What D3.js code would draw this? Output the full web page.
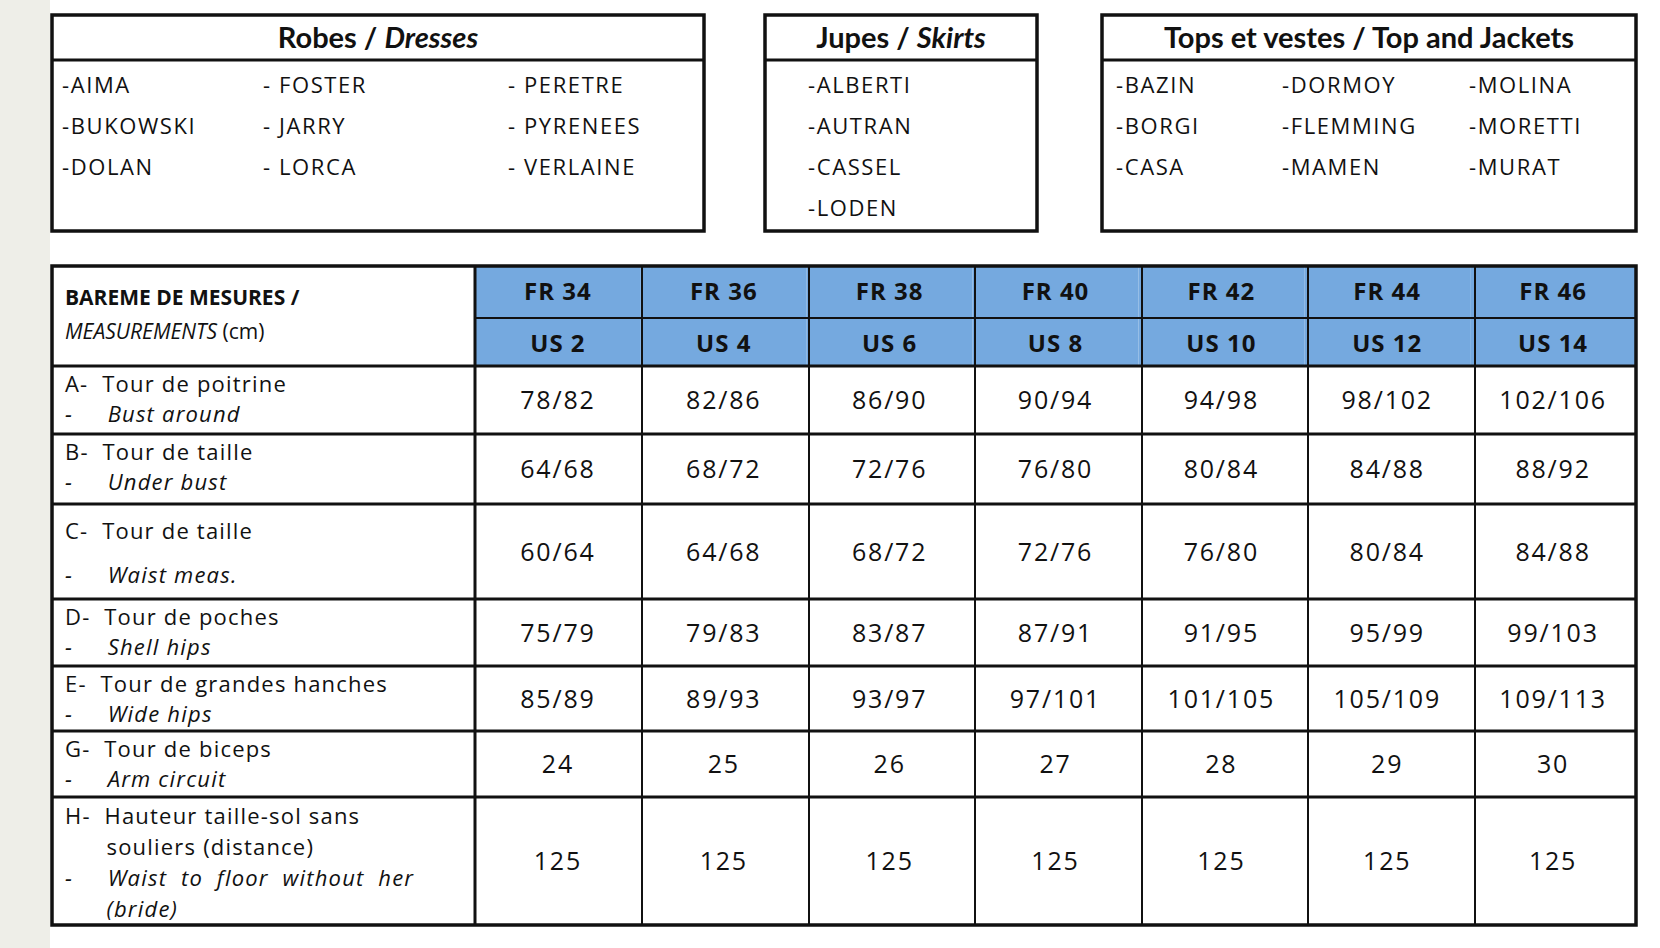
<!DOCTYPE html><html><head><meta charset="utf-8">
<script src="https://cdn.jsdelivr.net/npm/d3@7"></script>
<style>body{margin:0;background:#fff}svg{display:block}</style></head><body>
<script>
const dresses=[["-AIMA","-BUKOWSKI","-DOLAN"],["- FOSTER","- JARRY","- LORCA"],["- PERETRE","- PYRENEES","- VERLAINE"]];
const skirts=[["-ALBERTI","-AUTRAN","-CASSEL","-LODEN"]];
const tops=[["-BAZIN","-BORGI","-CASA"],["-DORMOY","-FLEMMING","-MAMEN"],["-MOLINA","-MORETTI","-MURAT"]];
const frSizes=["FR 34","FR 36","FR 38","FR 40","FR 42","FR 44","FR 46"];
const usSizes=["US 2","US 4","US 6","US 8","US 10","US 12","US 14"];
const rowKeys=["A","B","C","D","E","G","H"];
const rowLabels=[["A-  Tour de poitrine","-     Bust around"],["B-  Tour de taille","-     Under bust"],["C-  Tour de taille","","-     Waist meas."],["D-  Tour de poches","-     Shell hips"],["E-  Tour de grandes hanches","-     Wide hips"],["G-  Tour de biceps","-     Arm circuit"],["H-  Hauteur taille-sol sans","      souliers (distance)","-     Waist  to  floor  without  her","      (bride)"]];
const values=[["78/82","82/86","86/90","90/94","94/98","98/102","102/106"],["64/68","68/72","72/76","76/80","80/84","84/88","88/92"],["60/64","64/68","68/72","72/76","76/80","80/84","84/88"],["75/79","79/83","83/87","87/91","91/95","95/99","99/103"],["85/89","89/93","93/97","97/101","101/105","105/109","109/113"],["24","25","26","27","28","29","30"],["125","125","125","125","125","125","125"]];

const W=1660,H=948;
const svg=d3.select("body").append("svg").attr("width",W).attr("height",H);
svg.append("rect").attr("width",50).attr("height",H).attr("fill","#eeeee8");
const F="'Open Sans', sans-serif";

function box(x0,x1,title,italic,cols,colX){
  const g=svg.append("g");
  g.append("rect").attr("x",x0).attr("y",15).attr("width",x1-x0).attr("height",216).attr("fill","#fff").attr("stroke","#111").attr("stroke-width",3.5);
  g.append("line").attr("x1",x0).attr("x2",x1).attr("y1",60).attr("y2",60).attr("stroke","#111").attr("stroke-width",3);
  const t=g.append("text").attr("x",(x0+x1)/2).attr("y",48).attr("text-anchor","middle").attr("font-family","Lato, sans-serif").attr("font-weight",700).attr("font-size",29).attr("fill","#111");
  t.append("tspan").text(title);
  if(italic) t.append("tspan").attr("font-style","italic").text(italic);
  const ys=d3.scaleLinear().domain([0,1]).range([93,134]);
  cols.forEach((c,i)=>g.selectAll(null).data(c).join("text").attr("x",colX[i]).attr("y",(d,j)=>ys(j)).attr("font-family",F).attr("font-size",22).attr("letter-spacing",1.6).attr("fill","#111").text(d=>d));
}
box(52,704,"Robes / ","Dresses",dresses,[62,263,508]);
box(765,1037,"Jupes / ","Skirts",skirts,[808]);
box(1102,1636,"Tops et vestes / Top and Jackets",null,tops,[1116,1282,1469]);

// table
const colEdges=[52,475,642,809,975,1142,1308,1475,1636];
const x=d3.scaleBand().domain(frSizes).range([475,1636]);
const rowEdges=[366,434,504,599,666,731,797,925];
const yTop=d3.scaleOrdinal().domain(rowKeys).range(rowEdges.slice(0,-1));
const yBot=d3.scaleOrdinal().domain(rowKeys).range(rowEdges.slice(1));
const T=svg.append("g");
T.append("rect").attr("x",52).attr("y",266).attr("width",1584).attr("height",659).attr("fill","#fff");
T.selectAll(null).data(frSizes).join("rect").attr("x",d=>x(d)).attr("y",266).attr("width",x.bandwidth()).attr("height",100).attr("fill","#75a9df");
T.selectAll(null).data(frSizes).join("text").attr("x",d=>x(d)+x.bandwidth()/2).attr("y",300).attr("text-anchor","middle").attr("font-family",F).attr("font-weight",700).attr("font-size",24).attr("letter-spacing",1).attr("fill","#111").text(d=>d);
T.selectAll(null).data(usSizes).join("text").attr("x",(d,i)=>x(frSizes[i])+x.bandwidth()/2).attr("y",352).attr("text-anchor","middle").attr("font-family",F).attr("font-weight",700).attr("font-size",24).attr("letter-spacing",1).attr("fill","#111").text(d=>d);
T.append("text").attr("x",65).attr("y",305).attr("font-family",F).attr("font-weight",700).attr("font-size",21).attr("fill","#111").text("BAREME DE MESURES /");
const m=T.append("text").attr("x",65).attr("y",339).attr("font-family",F).attr("font-size",21).attr("fill","#111");
m.append("tspan").attr("font-style","italic").text("MEASUREMENTS");m.append("tspan").text("    (cm)");
rowKeys.forEach((k,i)=>{
  const t=yTop(k),b=yBot(k),L=rowLabels[i];
  const n=L.length, step=n===4?31:(n===3?22:30);
  const start=n===4?(t+27):(n===3?(t+35):(t+26));
  L.forEach((s,j)=>{ if(!s) return;
    const it=s.startsWith("-")&&j>0 || (n===4&&j===3);
    T.append("text").attr("x",65).attr("y",start+j*step+(n===3&&j===2?0:0)).attr("font-family",F).attr("font-size",22).attr("letter-spacing",1.2).attr("fill","#111").attr("font-style",it?"italic":"normal").attr("xml:space","preserve").style("white-space","pre").text(s);
  });
  T.selectAll(null).data(values[i]).join("text").attr("x",(d,c)=>x(frSizes[c])+x.bandwidth()/2).attr("y",(t+b)/2+9).attr("text-anchor","middle").attr("font-family",F).attr("font-size",25).attr("letter-spacing",1.8).attr("fill","#111").text(d=>d);
});
// grid
T.selectAll(null).data(colEdges.slice(1,-1)).join("line").attr("x1",d=>d).attr("x2",d=>d).attr("y1",266).attr("y2",925).attr("stroke","#111").attr("stroke-width",d=>d===475?3:2);
T.append("line").attr("x1",475).attr("x2",1636).attr("y1",318).attr("y2",318).attr("stroke","#111").attr("stroke-width",2);
T.selectAll(null).data(rowEdges.slice(0,-1)).join("line").attr("x1",52).attr("x2",1636).attr("y1",d=>d).attr("y2",d=>d).attr("stroke","#111").attr("stroke-width",3);
T.append("rect").attr("x",52).attr("y",266).attr("width",1584).attr("height",659).attr("fill","none").attr("stroke","#111").attr("stroke-width",3.5);
</script></body></html>
